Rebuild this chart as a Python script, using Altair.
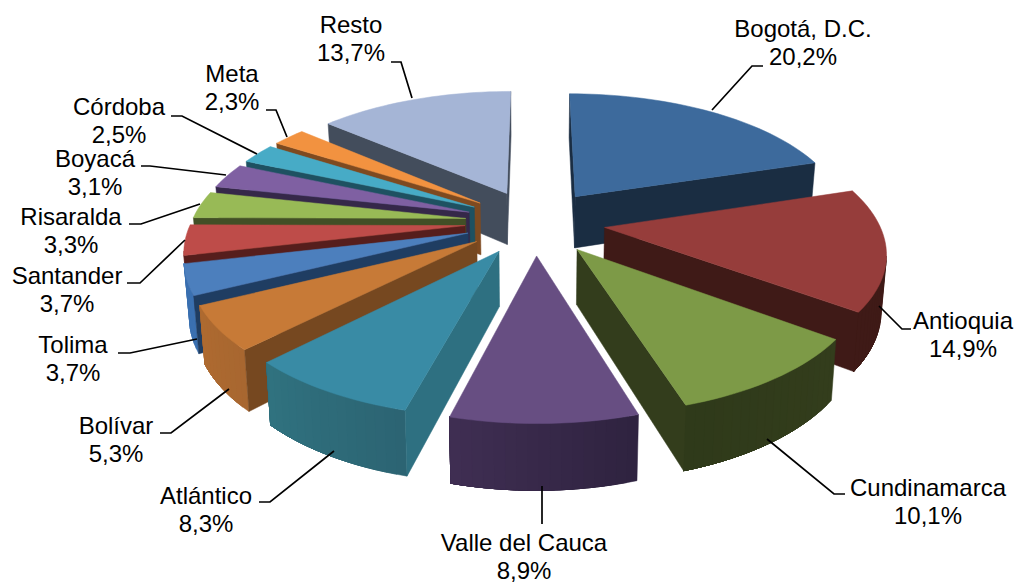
import math
import altair as alt

# ---- data
names = ["Bogotá, D.C.", "Antioquia", "Cundinamarca", "Valle del Cauca", "Atlántico", "Bolívar",
         "Tolima", "Santander", "Risaralda", "Boyacá", "Córdoba", "Meta", "Resto"]
shares = [20.2, 14.9, 10.1, 8.9, 8.3, 5.3, 3.7, 3.7, 3.3, 3.1, 2.5, 2.3, 13.7]
top_colors = ["#3D6A9C", "#963D3B", "#7D9A47", "#674E82", "#398BA5", "#C77A37", "#4C7FBD",
              "#BE4C49", "#98BA56", "#7F60A2", "#47ABC6", "#F29240", "#A5B5D6"]
side_colors = ["#1A2D42", "#3F1A17", "#333D1C", "#3E2E52", "#2E7081", "#764820", "#1F3D62",
               "#561E1C", "#424F26", "#352849", "#1E5161", "#7E4A20", "#434D5C"]
rim_right = ["#1A2D42", "#3F1A17", "#333D1C", "#2F2340", "#2C6473", "#A86730", "#3B70B0",
             "#8E3533", "#71893F", "#5E4778", "#34808F", "#B56E30", "#434D5C"]
rim_left = ["#1A2D42", "#3F1A17", "#2F3A1A", "#3F2E52", "#30727F", "#AE6A30", "#3B70B0",
            "#8E3533", "#71893F", "#5E4778", "#34808F", "#B56E30", "#434D5C"]

# ---- layout (pixels of the picture), kept apart from the values
CX, CY = 535, 222
RADIUS, EXPLODE, TILT, PERSP, DEPTH, SHRINK = 274, 70, 0.465, 0.0006, 53, 0.985
label_centres = [(803, 30), (963, 322), (928, 489), (524, 544), (206, 497), (116, 427), (73, 346),
                 (67, 277), (71, 218), (95, 160), (119, 108), (232, 75), (351, 26)]
LINE_GAP = 28
leaders = [[(712, 110), (752, 66), (763, 66)], [(879, 306), (902, 329), (911, 329)],
           [(767, 439), (834, 494), (845, 494)], [(542, 486), (542, 524)],
           [(334, 451), (270, 502), (259, 502)], [(229, 389), (171, 433), (160, 433)],
           [(197, 339), (130, 353), (118, 353)], [(185, 240), (140, 283), (127, 283)],
           [(200, 204), (141, 224), (129, 224)], [(226, 175), (150, 166), (141, 166)],
           [(257, 154), (182, 116), (171, 116)], [(287, 137), (276, 110), (266, 110)],
           [(412, 98), (401, 62), (391, 62)]]


def project(u, v, low=False):
    p = 1 / (1 - PERSP * v)
    x, y = u * p, TILT * v * p
    if low:
        return [CX + x * SHRINK, CY + y + DEPTH * p]
    return [CX + x, CY + y]


def feature(ring, colour):
    return {"type": "Feature", "properties": {"c": colour},
            "geometry": {"type": "Polygon", "coordinates": [ring + [ring[0]]]}}


def mix(a, b, f):
    ca = [int(a[i:i + 2], 16) for i in (1, 3, 5)]
    cb = [int(b[i:i + 2], 16) for i in (1, 3, 5)]
    return "#" + "".join(f"{round(x + (y - x) * f):02X}" for x, y in zip(ca, cb))


total = sum(shares)
wedges, start = [], 0.0
for i, share in enumerate(shares):
    a0 = start / total * 2 * math.pi
    a1 = (start + share) / total * 2 * math.pi
    start += share
    mid = (a0 + a1) / 2
    ou, ov = EXPLODE * math.sin(mid), -EXPLODE * math.cos(mid)
    n = max(6, int(share * 2))
    rim = [(ou + RADIUS * math.sin(a0 + (a1 - a0) * k / n),
            ov - RADIUS * math.cos(a0 + (a1 - a0) * k / n)) for k in range(n + 1)]
    faces = []
    # only faces turned to the viewer: the outline runs clockwise, so a face shows when x falls along it
    visible_rim = [k for k in range(n) if project(*rim[k + 1])[0] < project(*rim[k])[0]]
    for pos, k in enumerate(visible_rim):
        upper = [project(*rim[j]) for j in visible_rim[pos:]] + [project(*rim[visible_rim[-1] + 1])]
        lower = [project(*rim[j], True) for j in visible_rim[pos:]] + [project(*rim[visible_rim[-1] + 1], True)]
        faces.append(feature(upper + lower[::-1], mix(rim_right[i], rim_left[i], pos / max(1, len(visible_rim) - 1))))
    for a, b in [((ou, ov), rim[0]), (rim[-1], (ou, ov))]:
        if project(*b)[0] < project(*a)[0]:
            faces.append(feature([project(*a), project(*b), project(*b, True), project(*a, True)], side_colors[i]))
    top = [project(ou, ov)] + [project(*p) for p in rim]
    wedges.append((ov, faces + [feature(top, top_colors[i])]))

wedges.sort(key=lambda w: w[0])
features = [f for w in wedges for f in w[1]]

pie = alt.Chart(alt.InlineData(values={"type": "FeatureCollection", "features": features},
                               format=alt.DataFormat(type="json", property="features"))).mark_geoshape(
    strokeWidth=0.5
).encode(
    fill=alt.Color("properties.c:N", scale=None, legend=None),
    stroke=alt.Color("properties.c:N", scale=None, legend=None),
).project(type="identity", scale=1, translate=[-8, -8])

xs = alt.Scale(domain=[8, 1014], range=[0, 1006])
ys = alt.Scale(domain=[8, 584], range=[0, 576])

line_rows = [{"k": i, "o": j, "x": p[0], "y": p[1]} for i, pts in enumerate(leaders) for j, p in enumerate(pts)]
lines = alt.Chart(alt.Data(values=line_rows)).mark_line(color="black", strokeWidth=1.7).encode(
    x=alt.X("x:Q", scale=xs, axis=None),
    y=alt.Y("y:Q", scale=ys, axis=None),
    detail="k:N",
    order="o:Q",
)

text_rows = []
for name, share, (x, y) in zip(names, shares, label_centres):
    text_rows.append({"t": name, "x": x, "y": y})
    text_rows.append({"t": f"{share:.1f}%".replace(".", ","), "x": x, "y": y + LINE_GAP})
texts = alt.Chart(alt.Data(values=text_rows)).mark_text(
    font="Liberation Sans", fontSize=24, color="black", align="center", baseline="middle"
).encode(
    x=alt.X("x:Q", scale=xs, axis=None),
    y=alt.Y("y:Q", scale=ys, axis=None),
    text="t:N",
)

chart = alt.layer(pie, lines, texts).properties(
    width=1006, height=576, padding=0, background="white", autosize="none"
).configure_view(stroke=None)

chart.save("out.html", embed_options={"renderer": "svg", "actions": False})
